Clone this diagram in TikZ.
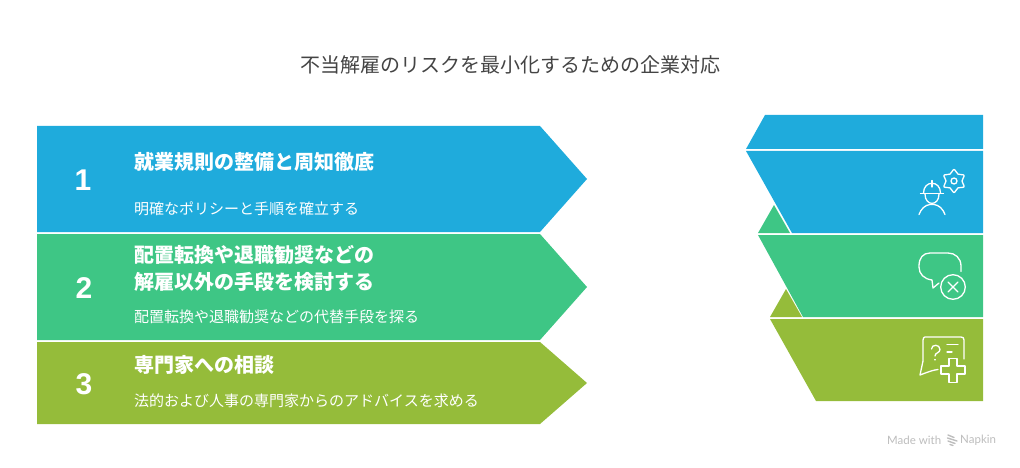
\documentclass[tikz,border=0pt]{standalone}
\usepackage{fontspec}
\setmainfont{Noto Sans CJK JP}
\newfontfamily\numfont{Liberation Sans}
\newfontfamily\latnfont{Lato}
\definecolor{cblue}{HTML}{1FABDC}
\definecolor{cgreen}{HTML}{3EC685}
\definecolor{colive}{HTML}{95BC3A}
\definecolor{ctitle}{HTML}{444444}
\definecolor{cmark}{HTML}{BDBDBD}
\tikzset{
  titletext/.style={anchor=center,text=ctitle,inner sep=0pt,font=\fontsize{20}{24}\selectfont},
  headtext/.style={anchor=west,text=white,inner sep=0pt,align=left,font=\fontsize{20}{27}\selectfont\bfseries},
  desctext/.style={anchor=west,text=white,inner sep=0pt,font=\fontsize{15}{18}\selectfont},
  numtext/.style={anchor=center,text=white,inner sep=0pt,font=\fontsize{30}{32}\selectfont\numfont\bfseries},
  marktext/.style={anchor=west,text=cmark,inner sep=0pt,font=\fontsize{11.5}{14}\selectfont\latnfont},
  icon/.style={draw=white,line width=1.3pt,line cap=round,line join=round,fill=none}
}
\begin{document}
\begin{tikzpicture}[x=1pt,y=-1pt]
\useasboundingbox (0,0) rectangle (1020,468);
% left arrows
\fill[cblue] (37,126) -- (540,126) -- (587,179) -- (540,232) -- (37,232) -- cycle;
\fill[cgreen] (37,234) -- (540,234) -- (587,287) -- (540,340) -- (37,340) -- cycle;
\fill[colive] (37,342) -- (540,342) -- (587,383) -- (540,424) -- (37,424) -- cycle;
% right funnel
\fill[cblue] (765,115) -- (983,115) -- (983,149) -- (746,149) -- cycle;
\fill[cblue] (746,151) -- (983,151) -- (983,233) -- (792,233) -- cycle;
\fill[cgreen] (774,205) -- (790,233) -- (758,233) -- cycle;
\fill[cgreen] (758,235) -- (983,235) -- (983,317) -- (803,317) -- cycle;
\fill[colive] (786,289) -- (802,317) -- (770,317) -- cycle;
\fill[colive] (770,319) -- (983,319) -- (983,401) -- (816,401) -- cycle;
% texts
\node[titletext] (title) at (510,65) {不当解雇のリスクを最小化するための企業対応};
\node[numtext] (n1) at (83,180) {1};
\node[numtext] (n2) at (84,288) {2};
\node[numtext] (n3) at (84,384) {3};
\node[headtext] (h1) at (134,162) {就業規則の整備と周知徹底};
\node[headtext] (h2) at (134,268) {配置転換や退職勧奨などの\\解雇以外の手段を検討する};
\node[headtext] (h3) at (134,365) {専門家への相談};
\node[desctext] (d1) at (134,209) {明確なポリシーと手順を確立する};
\node[desctext] (d2) at (134,317) {配置転換や退職勧奨などの代替手段を探る};
\node[desctext] (d3) at (134,401) {法的および人事の専門家からのアドバイスを求める};
\node[marktext] (m1) at (887,440) {Made with};
\node[marktext] (m2) at (960,440) {Napkin};
% napkin logo
\draw[cmark,line width=1.4pt,line cap=round] (948,435) -- (954,437.5) (947.5,438) -- (957,441) (948,441) -- (955,443.5) (950,444.5) -- (953,445.5);
% person + gear icon
\draw[icon] (923.5,193) .. controls (923.5,180) and (940.5,180) .. (940.5,193);
\draw[icon] (932,180.5) -- (932,187);
\draw[icon] (920.5,193.5) -- (943.5,193.5);
\draw[icon] (925,194) .. controls (925,206.5) and (939,206.5) .. (939,194);
\draw[icon] (919,214.5) .. controls (921,209) and (925,205) .. (930,204.5) -- (934,204.5) .. controls (939,205) and (943,209) .. (945,214.5);
\draw[icon] plot[smooth cycle,tension=0.6] coordinates {(954,169.5) (958,174.1) (964,175.3) (962,181) (964,186.8) (958,187.9) (954,192.5) (950,187.9) (944,186.8) (946,181) (944,175.3) (950,174.1)};
\draw[icon] (954,181) circle (3);
% bubble + cross
\draw[icon] (961,271.5) -- (961,266) .. controls (961,258) and (955,253) .. (948,253) -- (930,253) .. controls (923,253) and (919,258) .. (919,266) -- (919,267) .. controls (919,274) and (924,279) .. (932,280) -- (933,288) -- (939,283);
\draw[icon] (953,287) circle (12.3);
\draw[icon] (948,282) -- (958,292) (958,282) -- (948,292);
% question + medical cross
\draw[icon] (964,359) -- (964,340) .. controls (964,338) and (963,337) .. (961,337) -- (925,337) .. controls (924,337) and (923,338) .. (923,340) -- (923,361) -- (920,375) .. controls (928,372) and (933,370) .. (938,369.5);
\draw[icon] (931.5,349) .. controls (931.5,344) and (940,344) .. (940,349.5) .. controls (940,353) and (935,352.5) .. (935,356);
\draw[icon] (935,359.5) -- (935,359.9);
\draw[icon] (947,344.5) -- (958,344.5) (947,352) -- (952,352);
\draw[icon] (949,358.5) -- (957,358.5) -- (957,366) -- (965,366) -- (965,374) -- (957,374) -- (957,382.5) -- (949,382.5) -- (949,374) -- (941,374) -- (941,366) -- (949,366) -- cycle;
\end{tikzpicture}
\end{document}
